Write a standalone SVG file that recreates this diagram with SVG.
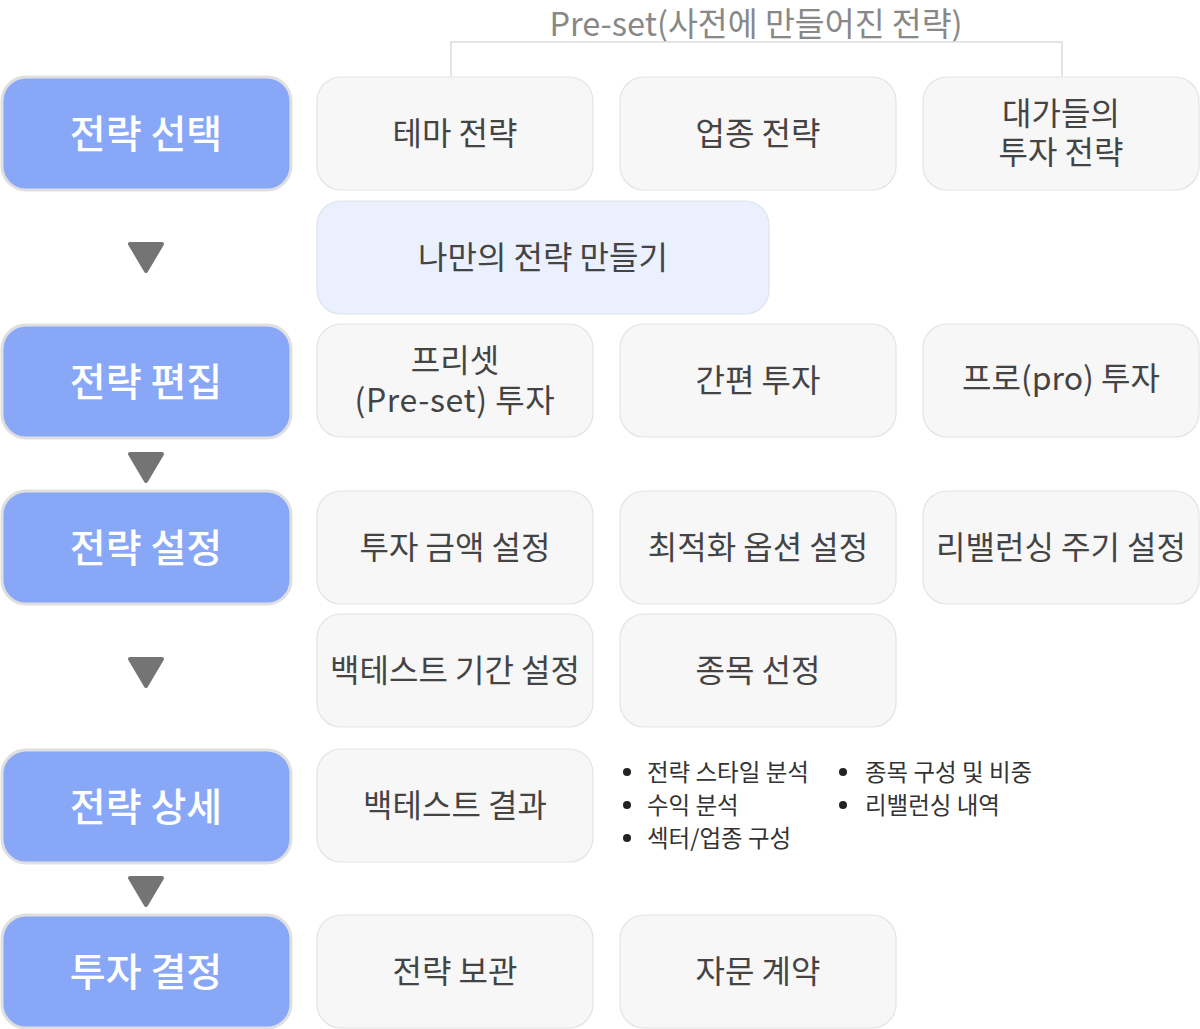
<svg xmlns="http://www.w3.org/2000/svg" width="1200" height="1029" viewBox="0 0 1200 1029">
<style>
.step rect{fill:#88a8f7;stroke:#dfdfdf;stroke-width:3}
.step text{fill:#fff;font-size:39px;font-weight:500}
.opt rect{fill:#f7f7f7;stroke:#e3e3e3;stroke-width:1.2}
.opt text{fill:#444;font-size:32px}
.own rect{fill:#eaf0fd;stroke:#dfe3ec;stroke-width:1.2}
.own text{fill:#444;font-size:32px}
text{font-family:"Noto Sans CJK KR","Noto Sans",sans-serif;text-anchor:middle;dominant-baseline:central}
.bul text{fill:#333;font-size:23.5px;text-anchor:start}
.bul circle{fill:#222}
.arr path{fill:#747474;stroke:#747474;stroke-width:4;stroke-linejoin:round}
</style>
<g id="preset-label">
<text x="756" y="21" style="fill:#888;font-size:32.5px">Pre-set(사전에 만들어진 전략)</text>
</g>
<g id="connectors">
<path d="M451 76 V42 H1062 V76" fill="none" stroke="#dcdcdc" stroke-width="1.5"/>
</g>
<g id="arrows" class="arr">
<path d="M130 244 H162 L146 271 Z"/>
<path d="M130 454 H162 L146 481 Z"/>
<path d="M130 659 H162 L146 686 Z"/>
<path d="M130 878 H162 L146 905 Z"/>
</g>
<g id="step1" class="step"><rect x="2" y="77" width="289" height="113" rx="24"/><text x="146" y="131">전략 선택</text></g>
<g id="step2" class="step"><rect x="2" y="325" width="289" height="113" rx="24"/><text x="146" y="379">전략 편집</text></g>
<g id="step3" class="step"><rect x="2" y="491" width="289" height="113" rx="24"/><text x="146" y="545">전략 설정</text></g>
<g id="step4" class="step"><rect x="2" y="750" width="289" height="113" rx="24"/><text x="146" y="804">전략 상세</text></g>
<g id="step5" class="step"><rect x="2" y="915" width="289" height="113" rx="24"/><text x="146" y="969">투자 결정</text></g>

<g id="theme" class="opt"><rect x="317" y="77" width="276" height="113" rx="24"/><text x="455" y="131">테마 전략</text></g>
<g id="sector" class="opt"><rect x="620" y="77" width="276" height="113" rx="24"/><text x="758" y="131">업종 전략</text></g>
<g id="masters" class="opt"><rect x="923" y="77" width="276" height="113" rx="24"/><text x="1061" y="111">대가들의</text><text x="1061" y="150">투자 전략</text></g>
<g id="own" class="own"><rect x="317" y="201" width="452" height="113" rx="24"/><text x="543" y="255">나만의 전략 만들기</text></g>

<g id="preset-invest" class="opt"><rect x="317" y="324" width="276" height="113" rx="24"/><text x="455" y="358">프리셋</text><text x="455" y="398" style="letter-spacing:0.6px">(Pre-set) 투자</text></g>
<g id="easy" class="opt"><rect x="620" y="324" width="276" height="113" rx="24"/><text x="758" y="378">간편 투자</text></g>
<g id="pro" class="opt"><rect x="923" y="324" width="276" height="113" rx="24"/><text x="1061" y="376">프로(pro) 투자</text></g>

<g id="amount" class="opt"><rect x="317" y="491" width="276" height="113" rx="24"/><text x="455" y="545">투자 금액 설정</text></g>
<g id="optim" class="opt"><rect x="620" y="491" width="276" height="113" rx="24"/><text x="758" y="545">최적화 옵션 설정</text></g>
<g id="rebal" class="opt"><rect x="923" y="491" width="276" height="113" rx="24"/><text x="1061" y="545">리밸런싱 주기 설정</text></g>

<g id="period" class="opt"><rect x="317" y="614" width="276" height="113" rx="24"/><text x="455" y="668">백테스트 기간 설정</text></g>
<g id="stocks" class="opt"><rect x="620" y="614" width="276" height="113" rx="24"/><text x="758" y="668">종목 선정</text></g>

<g id="backtest" class="opt"><rect x="317" y="749" width="276" height="113" rx="24"/><text x="455" y="803">백테스트 결과</text></g>
<g id="details" class="bul">
<circle cx="627" cy="772" r="4"/><text x="647" y="771">전략 스타일 분석</text>
<circle cx="627" cy="805" r="4"/><text x="647" y="804">수익 분석</text>
<circle cx="627" cy="838" r="4"/><text x="647" y="837">섹터/업종 구성</text>
<circle cx="843" cy="772" r="4"/><text x="865" y="771">종목 구성 및 비중</text>
<circle cx="843" cy="805" r="4"/><text x="865" y="804">리밸런싱 내역</text>
</g>

<g id="keep" class="opt"><rect x="317" y="915" width="276" height="113" rx="24"/><text x="455" y="969">전략 보관</text></g>
<g id="contract" class="opt"><rect x="620" y="915" width="276" height="113" rx="24"/><text x="758" y="969">자문 계약</text></g>
</svg>
